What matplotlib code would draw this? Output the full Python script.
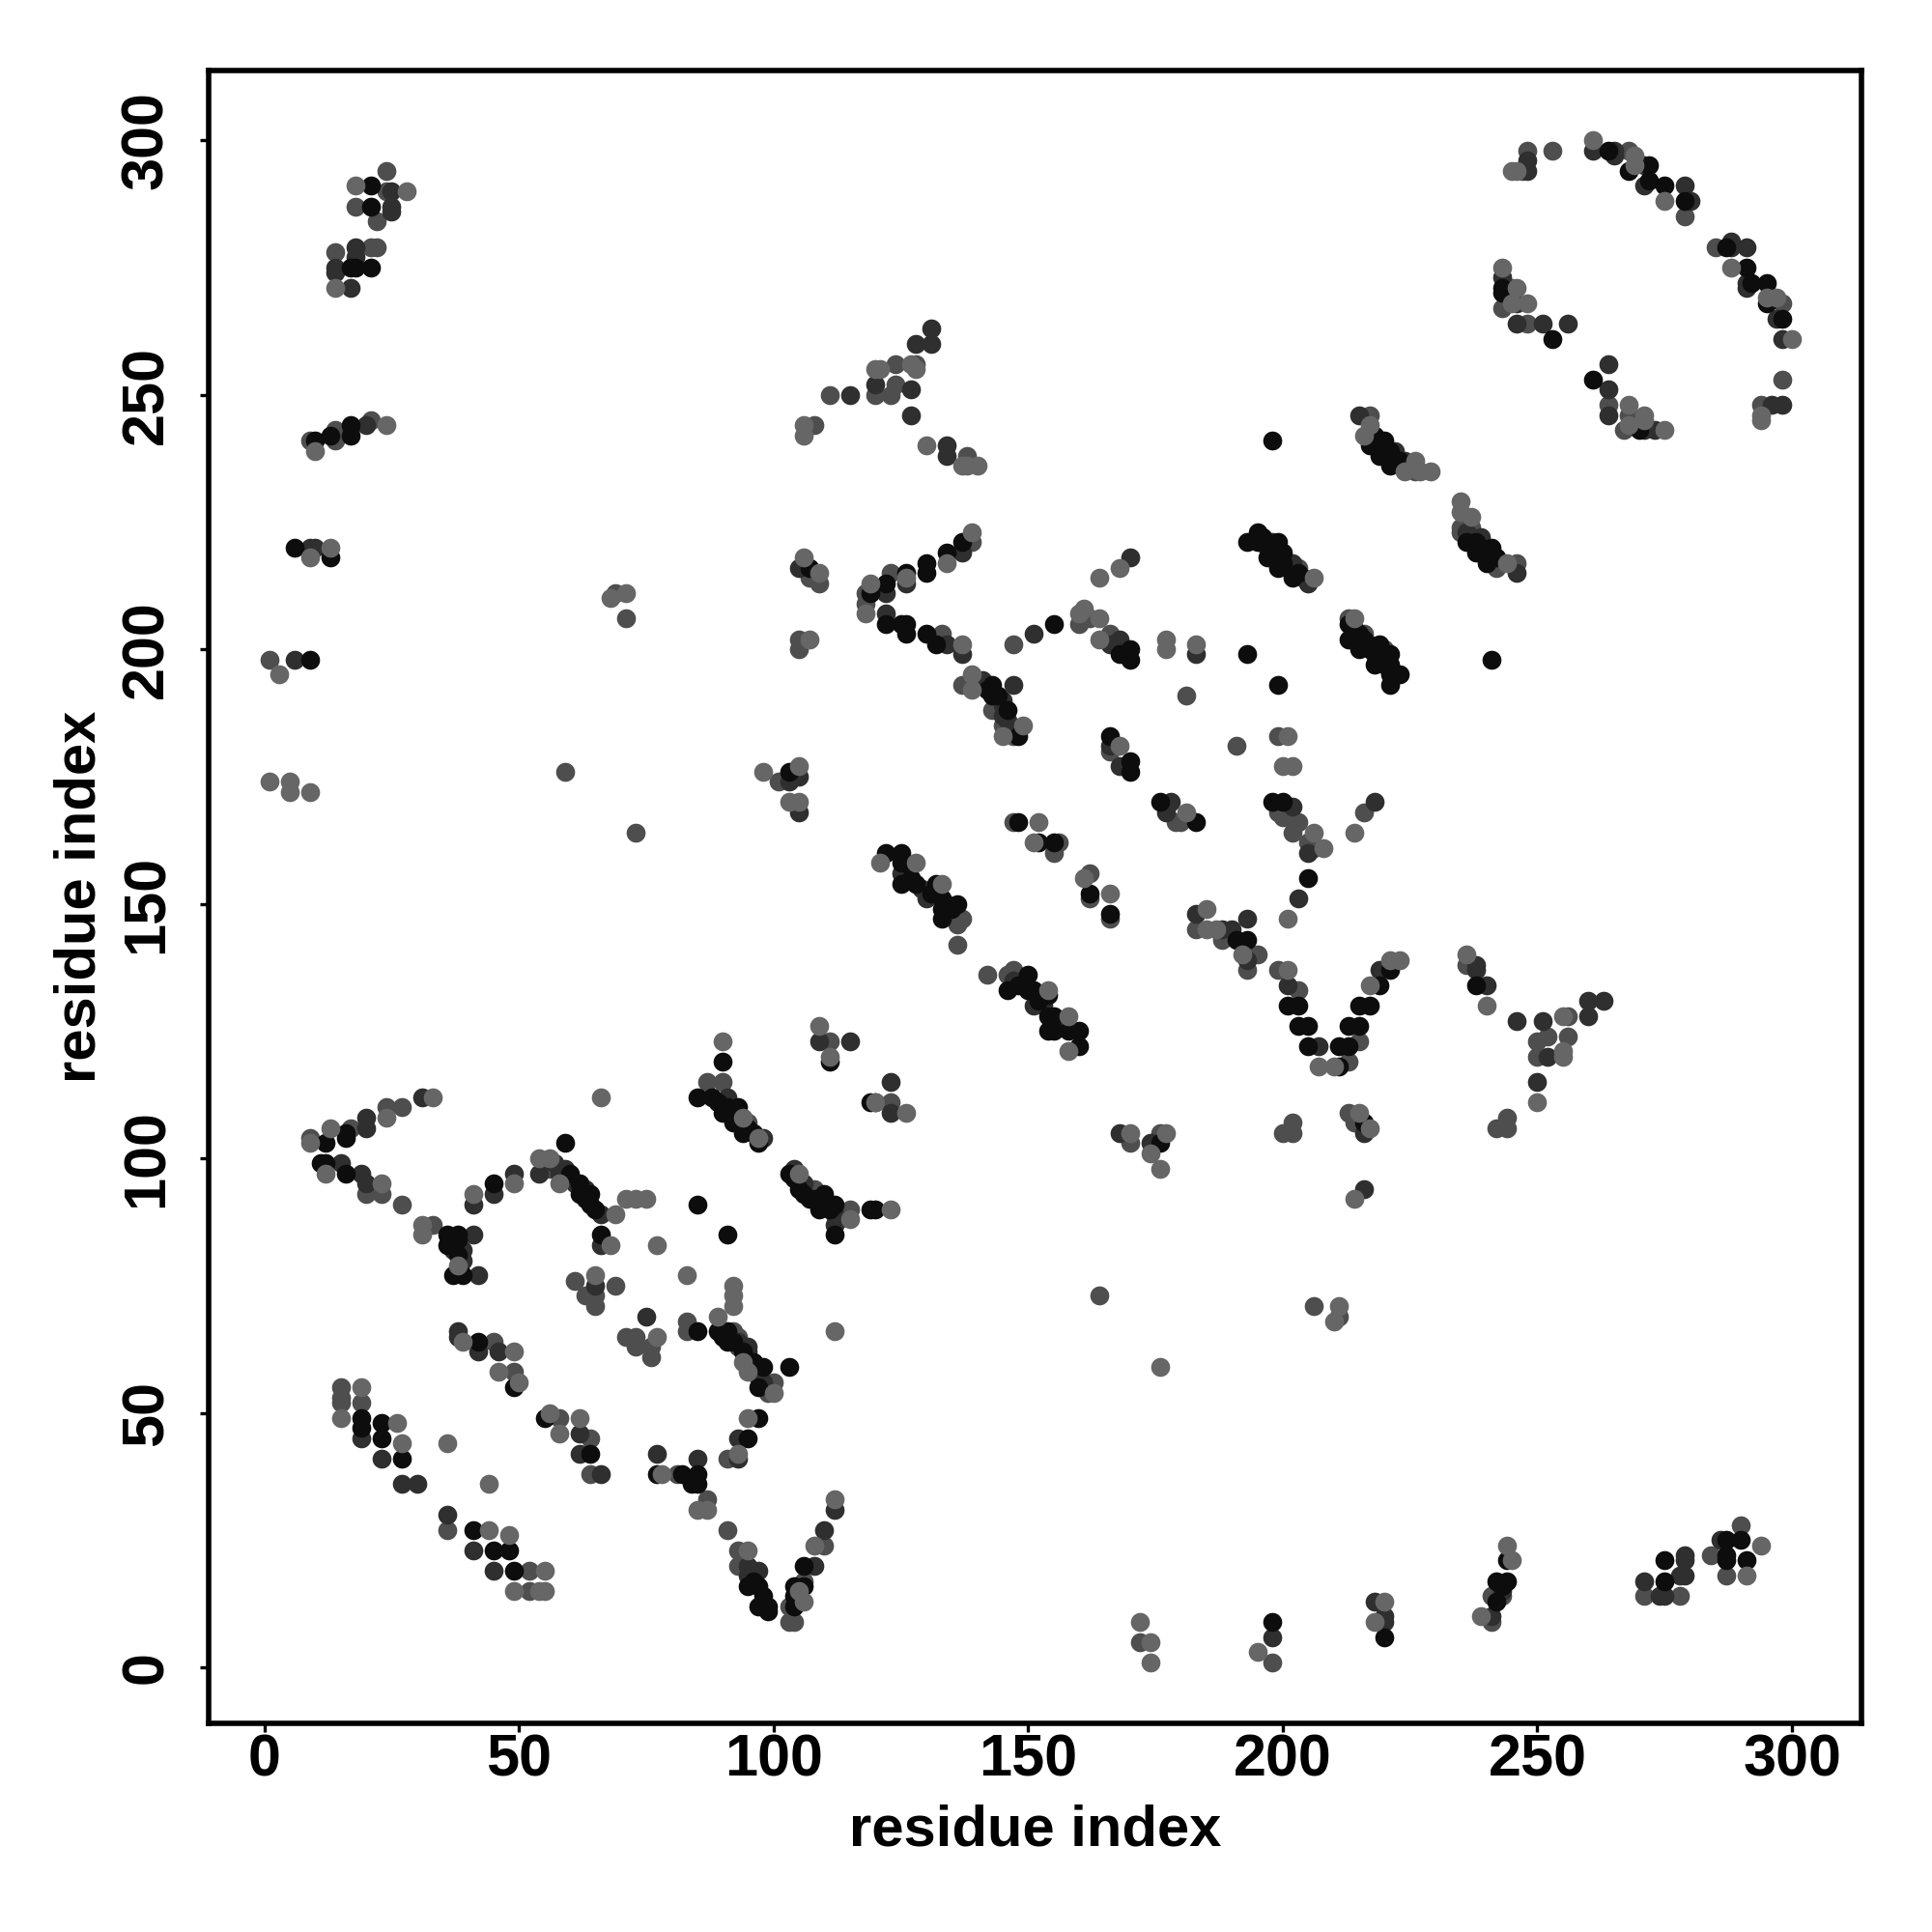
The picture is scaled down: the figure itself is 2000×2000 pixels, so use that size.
import numpy as np
import matplotlib
matplotlib.use('Agg')
from matplotlib import pyplot as plt

# (residue i, residue j) contacts, one list per grey level
contacts_black = [
    (12,103),(16,104),(16,105),(11,99),(12,99),(16,97),(36,85),(38,85),(36,83),(39,77),(37,77),
    (45,95),(59,103),(62,95),(64,93),(64,91),(66,85),(85,91),(91,85),(85,66),(89,66),(91,66),
    (42,64),(49,55),(19,49),(19,47),(23,48),(23,45),(27,41),(41,27),(45,23),(48,23),(49,19),
    (55,49),(64,42),(77,38),(82,38),(85,38),(85,36),(84,36),(95,16),(97,16),(99,12),(99,11),(97,12),
    (85,112),(88,112),(90,119),(90,109),(93,110),(92,107),(94,105),(97,103),(103,97),(105,94),
    (107,92),(110,93),(109,90),(112,91),(112,85),(120,90),(91,64),(98,59),(97,55),(103,59),
    (97,49),(95,45),(106,20),(104,16),(106,16),(104,14),(104,12),(111,119),(120,111),
    (21,291),(21,287),(17,275),(18,275),(21,275),(10,241),(13,242),(17,244),(17,242),(6,220),
    (13,218),(9,198),(198,241),(195,223),(193,221),(195,221),(199,221),(197,218),(200,219),
    (199,216),(202,214),(137,221),(134,219),(130,217),(130,215),(126,215),(122,213),(119,211),
    (122,205),(125,205),(126,205),(126,203),(130,203),(132,201),(107,216),(155,205),(168,199),
    (170,200),(170,198),(193,199),(199,193),(143,193),(143,191),(148,183),(166,183),(170,178),
    (170,176),(198,170),(200,170),(176,170),(183,166),(148,166),(152,162),(155,162),(103,176),
    (264,298),(272,295),(272,292),(275,291),(279,288),(268,294),(287,279),(291,275),(292,272),
    (295,272),(295,268),(298,265),(243,271),(243,270),(253,261),(261,253),(270,243),
    (217,240),(218,242),(220,241),(219,238),(221,236),(236,221),(238,219),(241,220),(240,217),
    (242,218),(241,198),(213,205),(213,202),(215,200),(219,201),(218,197),(221,199),(221,197),
    (223,195),(221,195),(221,193),(122,160),(125,160),(125,158),(125,154),(128,154),(132,154),
    (133,151),(136,150),(133,149),(133,147),(150,136),(146,133),(150,133),(154,132),(154,128),
    (154,125),(155,125),(158,125),(160,125),(160,122),(119,111),(119,90),(162,152),(166,148),
    (191,143),(193,143),(205,155),(201,130),(203,130),(203,126),(205,126),(205,122),(211,122),
    (211,118),(213,122),(213,126),(215,126),(215,130),(217,130),(219,134),(221,137),(176,103),
    (216,107),(238,134),(198,9),(220,6),(242,17),(244,17),(244,21),(242,13),(275,21),(275,17),
    (287,25),(287,22),(287,21),(290,25),(291,21),
    (60,97),(62,93),(63,92),(65,90),(89,111),(91,110),(92,109),(93,108),(95,106),(96,105),
    (104,96),(106,93),(108,92),(110,91),(111,90),(196,222),(198,219),(200,217),(203,215),
    (215,203),(216,202),(217,200),(219,198),(220,197),(218,241),(219,240),(221,239),(223,237),
    (238,221),(239,220),(240,219),(148,134),(151,133),(152,131),(155,128),(127,155),(131,152),
    (135,149),(142,192),(144,191),(146,188),(90,65),(92,64),(94,62),(96,60),(98,14),(96,17),
    (38,84),(38,81),(243,16),
]
contacts_dark = [
    (15,99),(19,97),(20,95),(20,108),(20,106),(41,85),(39,82),(42,77),(41,91),(45,93),(49,97),
    (59,98),(54,97),(66,89),(66,83),(65,75),(38,66),(38,65),(46,62),(42,62),(19,45),(23,41),
    (27,36),(30,36),(36,30),(41,23),(45,19),(62,46),(62,42),(66,38),(77,42),(85,41),(97,19),
    (95,20),(31,112),(95,63),(98,104),(91,112),(104,98),(106,95),(112,87),(109,123),(115,123),
    (123,115),(123,109),(93,45),(93,41),(108,20),(110,27),(112,31),(25,290),(25,287),(25,286),
    (18,279),(18,277),(14,275),(14,274),(17,271),(20,244),(9,220),(10,220),(6,198),(131,263),
    (128,260),(131,260),(120,252),(127,251),(127,246),(115,250),(134,240),(134,238),(198,221),
    (202,217),(205,213),(137,219),(126,213),(122,211),(122,207),(134,201),(137,199),(105,216),
    (151,203),(166,201),(168,202),(170,218),(183,199),(147,193),(145,190),(145,187),(166,181),
    (168,177),(103,174),(105,168),(105,175),(202,169),(205,160),(178,170),(177,168),(75,69),
    (261,298),(265,298),(265,297),(271,295),(271,291),(279,291),(280,288),(288,280),(288,279),
    (291,279),(291,272),(291,271),(297,265),(298,261),(296,248),(298,248),(243,273),(246,268),
    (246,264),(251,264),(256,264),(264,256),(264,251),(264,246),(271,243),(273,243),(248,296),
    (215,246),(222,239),(224,237),(239,222),(246,215),(130,151),(151,130),(183,148),(188,145),
    (190,145),(193,147),(193,139),(201,134),(207,122),(219,137),(168,105),(174,103),(216,105),
    (216,94),(218,170),(203,151),(240,134),(238,137),(238,138),(246,127),(251,127),(252,120),
    (250,115),(260,131),(263,131),(260,128),(198,6),(218,13),(220,10),(220,9),(241,10),(271,17),
    (274,14),(275,14),(278,18),(279,18),(279,22),(279,21),(286,25),(248,294),
    (57,99),(58,97),(61,95),(63,94),(94,107),(109,92),(112,89),(197,220),(199,218),(201,216),
    (204,214),(214,204),(218,199),(220,198),(222,238),(224,236),(236,223),(237,222),(241,218),
    (147,135),(149,134),(153,130),(156,127),(125,156),(129,153),(130,152),(134,150),(141,194),
    (145,189),(146,186),(93,64),(95,62),(97,58),(98,56),(95,18),(37,82),(39,80),(243,15),
]
contacts_mid = [
    (9,104),(17,106),(24,110),(27,110),(20,93),(23,93),(27,91),(33,87),(61,76),(69,75),(83,68),
    (83,66),(63,73),(65,73),(65,71),(71,65),(73,65),(73,63),(76,63),(76,61),(45,64),(49,58),
    (15,55),(15,53),(15,52),(19,52),(52,19),(52,15),(36,27),(58,49),(64,45),(64,38),(81,38),
    (87,33),(91,27),(93,23),(93,20),(87,115),(90,115),(95,107),(93,65),(93,63),(99,54),(100,56),
    (92,66),(95,61),(108,94),(111,123),(123,111),(115,90),(91,41),(110,24),(106,17),(103,12),(103,9),
    (104,9),(24,294),(24,290),(18,287),(22,284),(14,278),(21,279),(22,279),(9,241),(14,243),
    (14,241),(21,245),(1,198),(59,176),(73,164),(71,206),(69,211),(124,256),(124,252),(128,256),
    (120,250),(123,250),(111,250),(108,244),(138,238),(139,221),(203,216),(123,215),(118,211),
    (118,209),(107,214),(109,213),(133,203),(105,202),(105,200),(160,205),(162,206),(166,203),
    (147,201),(181,191),(137,193),(140,193),(143,188),(145,185),(147,183),(166,180),(199,183),
    (191,181),(199,168),(200,167),(203,166),(202,164),(205,162),(206,161),(179,166),(180,166),
    (101,174),(147,166),(155,160),(156,162),(248,298),(253,298),(247,294),(268,298),(285,279),
    (298,268),(298,253),(294,248),(279,285),(243,267),(245,271),(248,264),(264,248),(268,246),
    (267,243),(217,246),(226,235),(235,224),(235,223),(237,224),(242,216),(246,217),(213,206),
    (216,203),(217,201),(220,200),(136,146),(137,147),(136,142),(142,136),(146,136),(147,137),
    (153,132),(155,126),(162,156),(162,151),(166,147),(183,145),(188,143),(193,137),(195,140),
    (199,137),(203,133),(213,119),(215,123),(170,103),(176,105),(200,105),(202,105),(202,107),
    (213,109),(214,107),(216,168),(164,73),(206,71),(211,69),(236,138),(250,123),(252,124),
    (256,128),(256,124),(250,120),(244,108),(242,106),(244,106),(198,1),(241,14),(243,14),(241,9),
    (271,14),(278,14),(284,22),(287,18),(290,28),(172,5),
    (55,99),(56,98),(59,96),(97,57),(99,55),(113,88),
]
contacts_light = [
    (9,103),(13,106),(24,108),(33,112),(66,112),(12,97),(23,95),(31,87),(31,85),(41,93),(49,95),
    (54,100),(56,100),(58,95),(69,89),(71,92),(73,92),(75,92),(68,83),(77,83),(65,77),(83,77),
    (92,75),(92,73),(92,71),(89,69),(77,65),(39,64),(49,62),(46,58),(50,56),(19,55),(15,49),
    (26,48),(27,44),(36,44),(44,36),(44,27),(48,26),(55,19),(49,15),(54,15),(55,15),(56,50),
    (58,46),(62,49),(78,38),(85,31),(87,31),(95,23),(38,79),(109,126),(111,120),(90,123),
    (94,108),(97,104),(120,111),(126,109),(105,97),(115,88),(123,90),(94,60),(95,58),(100,54),
    (95,49),(93,42),(112,66),(112,33),(108,24),(105,15),(106,13),(18,291),(28,290),(14,271),
    (10,239),(24,244),(13,220),(9,218),(3,195),(1,174),(5,174),(5,172),(9,172),(68,210),(71,211),
    (120,255),(121,255),(127,256),(128,255),(106,244),(106,242),(130,240),(137,236),(138,236),
    (140,236),(206,214),(139,223),(134,217),(126,214),(119,213),(118,207),(137,201),(107,202),
    (106,218),(109,215),(161,208),(160,207),(164,206),(164,202),(164,214),(168,216),(177,202),
    (177,200),(183,201),(139,195),(139,192),(149,185),(145,183),(168,181),(201,183),(200,177),
    (202,177),(206,164),(208,161),(214,164),(181,168),(105,177),(103,170),(105,170),(98,176),
    (152,166),(151,162),(245,294),(246,294),(261,300),(269,297),(269,295),(275,288),(288,275),
    (295,269),(297,269),(300,261),(294,246),(294,245),(243,275),(246,271),(245,268),(248,268),
    (268,248),(268,244),(271,246),(271,245),(275,243),(217,244),(216,242),(226,237),(224,235),
    (227,235),(229,235),(235,229),(235,227),(237,226),(244,217),(214,206),(121,158),(128,158),
    (133,154),(154,133),(158,128),(158,121),(161,155),(166,152),(185,149),(185,145),(187,145),
    (192,140),(201,147),(214,92),(201,137),(207,118),(210,118),(217,134),(221,139),(223,139),
    (170,105),(177,105),(174,101),(176,98),(215,109),(217,106),(176,59),(211,71),(210,68),
    (240,130),(236,140),(255,128),(255,121),(255,120),(250,111),(172,9),(174,5),(174,1),(195,3),
    (220,13),(218,9),(244,24),(245,21),(239,10),(291,18),(294,24),
]
tick_values = [0, 50, 100, 150, 200, 250, 300]
axis_label = 'residue index'

plt.rcParams['font.family'] = ['Liberation Sans', 'DejaVu Sans']
plt.rcParams['font.weight'] = 'bold'

fig = plt.figure(figsize=(10, 10), dpi=200)
ax = fig.add_axes([0.1082, 0.1082, 0.8553, 0.8555])

# light points go last, they mostly sit on top in the original
groups = [(contacts_mid, '#4e4e4e'), (contacts_dark, '#2f2f2f'),
          (contacts_black, '#0d0d0d'), (contacts_light, '#666666')]
for pairs, colour in groups:
    arr = np.array(pairs)
    ax.scatter(arr[:, 0], arr[:, 1], s=50, c=colour, linewidths=0, zorder=3)

ax.set_xlim(-10.85, 313.65)
ax.set_ylim(-10.9, 313.75)
ax.set_xticks(tick_values)
ax.set_yticks(tick_values)
ax.tick_params(axis='both', length=3.1, width=1.2, labelsize=22)
ax.tick_params(axis='x', pad=1)
ax.tick_params(axis='y', pad=9.5)
plt.setp(ax.get_yticklabels(), rotation=90, va='center')
for side in ax.spines.values():
    side.set_linewidth(2.0)

ax.set_xlabel(axis_label, fontsize=21.5, fontweight='bold', labelpad=5.5)
ax.set_ylabel(axis_label, fontsize=21.5, fontweight='bold', labelpad=5)

fig.savefig('out.png', dpi=200)
